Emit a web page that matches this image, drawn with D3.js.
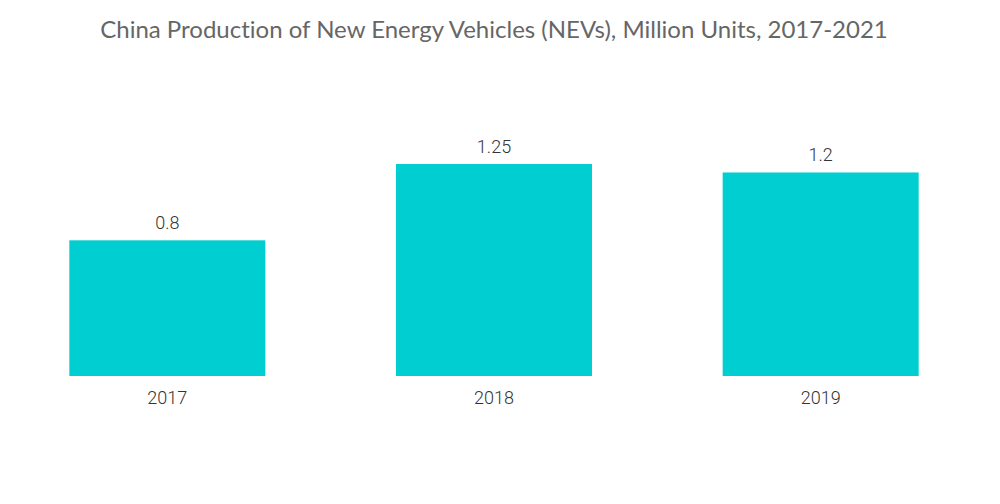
<!DOCTYPE html>
<html>
<head>
<meta charset="utf-8">
<title>China NEV production</title>
<script src="https://d3js.org/d3.v7.min.js"></script>
<style>
  body { margin: 0; background: #fff; }
  text { font-family: Roboto, sans-serif; font-variant-ligatures: none; }
</style>
</head>
<body>
<svg width="1000" height="504"></svg>
<script>
const years = ["2017", "2018", "2019"];
const units = [0.8, 1.25, 1.2];
const valueLabels = ["0.8", "1.25", "1.2"];

const svg = d3.select("svg");
const baseline = 376;

const x = d3.scaleBand().domain(years).range([4, 984]).paddingInner(0.4).paddingOuter(0.2);
const y = d3.scaleLinear().domain([0, 1.25]).range([baseline, 164]);

svg.append("text")
  .attr("x", 494)
  .attr("y", 38)
  .attr("text-anchor", "middle")
  .style("font-family", "Lato, sans-serif")
  .style("font-size", "24px")
  .style("fill", "#666")
  .text("China Production of New Energy Vehicles (NEVs), Million Units, 2017-2021");

svg.append("g").selectAll("rect")
  .data(years)
  .enter()
  .append("rect")
  .attr("x", d => x(d))
  .attr("y", (d, i) => y(units[i]))
  .attr("width", x.bandwidth())
  .attr("height", (d, i) => baseline - y(units[i]))
  .style("fill", "#00ced1");

svg.append("g").selectAll("text")
  .data(years)
  .enter()
  .append("text")
  .attr("x", d => x(d) + x.bandwidth() / 2)
  .attr("y", (d, i) => y(units[i]) - 11)
  .attr("text-anchor", "middle")
  .style("font-size", "18px")
  .style("font-weight", "300")
  .style("fill", "#333")
  .text((d, i) => valueLabels[i]);

const axis = svg.append("g")
  .attr("transform", "translate(0," + baseline + ")")
  .call(d3.axisBottom(x).tickSize(0).tickPadding(10));
axis.select(".domain").remove();
axis.selectAll("text")
  .attr("dy", "0")
  .attr("y", 28)
  .style("font-family", "Roboto, sans-serif")
  .style("font-size", "18px")
  .style("font-weight", "300")
  .style("fill", "#333");
</script>
</body>
</html>
